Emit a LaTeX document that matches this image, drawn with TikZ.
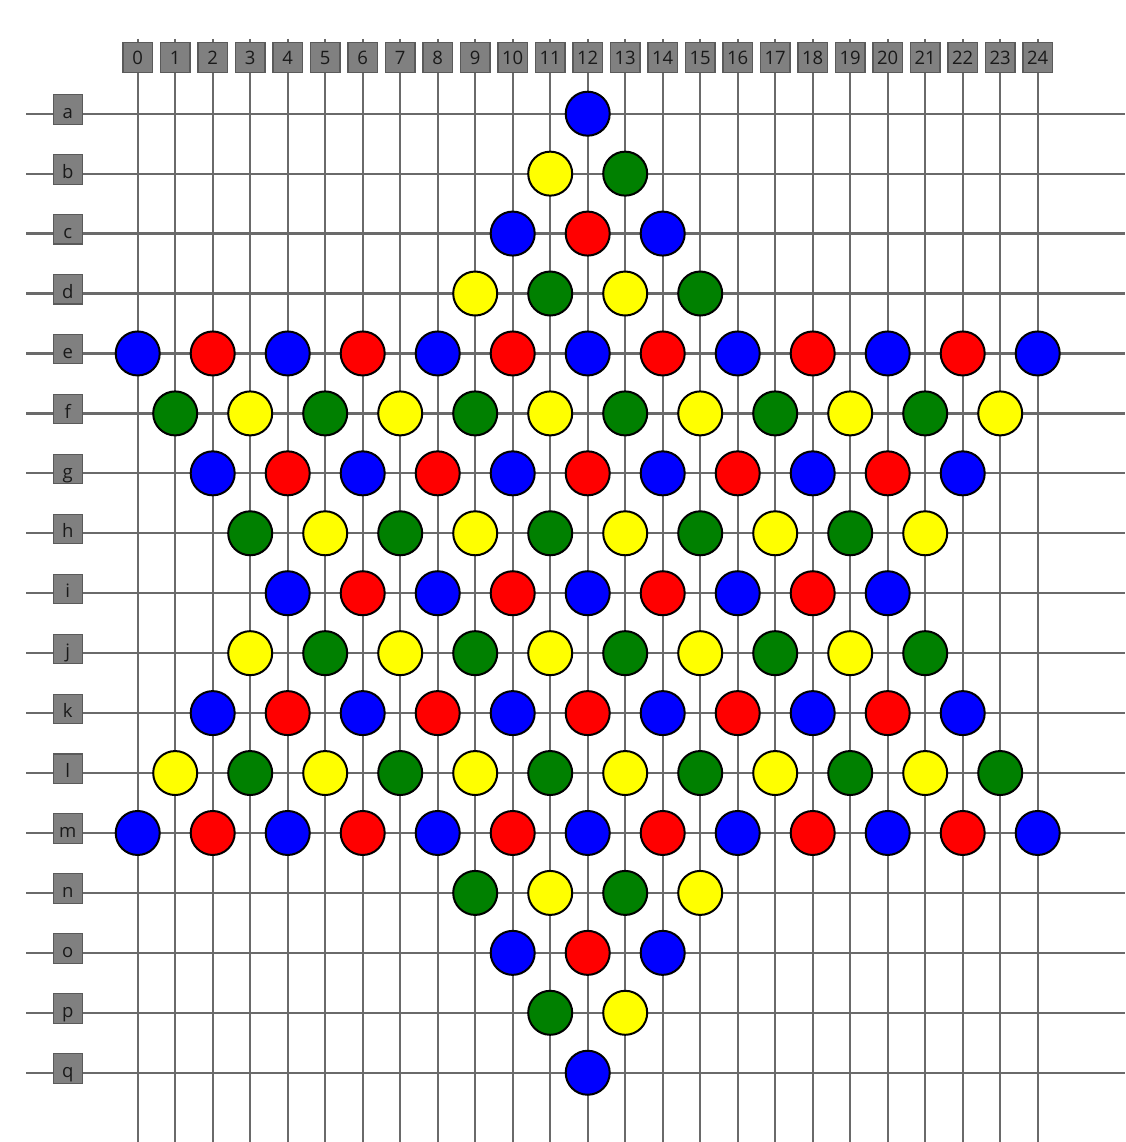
\documentclass[tikz,border=0pt]{standalone}
\usepackage{fontspec}
\setmainfont{Open Sans}
\usetikzlibrary{backgrounds}
\definecolor{gridgray}{HTML}{6A6A6A}
\definecolor{tagfill}{HTML}{808080}
\definecolor{tagdraw}{HTML}{5A5A5A}
\definecolor{tagtext}{HTML}{1A1A1A}
% peg colours: peg<row parity><(row+col) mod 4>
\definecolor{peg00}{HTML}{0000FF}
\definecolor{peg02}{HTML}{FF0000}
\definecolor{peg10}{HTML}{FFFF00}
\definecolor{peg12}{HTML}{008000}

\begin{document}
\begin{tikzpicture}[x=1pt, y=-1pt,
  tag/.style={draw=tagdraw, fill=tagfill, line width=1.1pt, minimum width=29.5pt, minimum height=29.5pt, inner sep=0pt, text=tagtext, font=\fontsize{18.5}{18.5}\selectfont, text height=14pt, text depth=0pt},
  rowtag/.style={tag, text height=18pt},
  gline/.style={draw=gridgray, line width=2.2pt},
  peg/.style={circle, draw=black, line width=2pt, minimum size=44pt, inner sep=0pt}
]
\useasboundingbox (0,0) rectangle (1125,1142);

% column tags
\foreach \c in {0,...,24} {
  \pgfmathsetmacro\cx{137.7+37.5*\c}
  \node[tag] (col-\c) at (\cx,57.5) {\c};
  \coordinate (cb-\c) at (\cx,1142);
}
% row tags
\foreach \l [count=\r from 0] in {a,b,...,q} {
  \pgfmathsetmacro\ry{113.7+59.94*\r}
  \node[rowtag] (row-\l) at (67.8,\ry-4.3) {\l};
  \coordinate (rl-\l) at (26,\ry);
  \coordinate (rr-\l) at (1125,\ry);
}

\begin{scope}[on background layer]
  \foreach \c in {0,...,24}
    \draw[gline] ([yshift=3.4pt]col-\c.north) -- (cb-\c);
  \foreach \l in {a,b,...,q}
    \draw[gline] (rl-\l) -- (rr-\l);
\end{scope}

% pegs on the star
\foreach \l [count=\r from 0] in {a,b,...,q} {
  \foreach \c in {0,...,24} {
    \pgfmathtruncatemacro\ok{and(mod(\r+\c,2)==0, or(and(\r<=12, abs(\c-12)<=\r), and(\r>=4, abs(\c-12)<=16-\r)))}
    \ifnum\ok=1
      \pgfmathtruncatemacro\rp{mod(\r,2)}
      \pgfmathtruncatemacro\k{mod(\r+\c,4)}
      \node[peg, fill=peg\rp\k] (peg-\l\c) at (137.7+37.5*\c,113.7+59.94*\r) {};
    \fi
  }
}
\end{tikzpicture}
\end{document}
